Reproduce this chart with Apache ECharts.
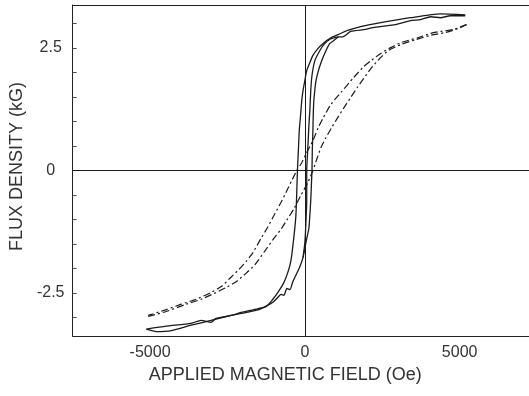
<!DOCTYPE html>
<html>
<head>
<meta charset="utf-8">
<script src="https://cdn.jsdelivr.net/npm/echarts@6/dist/echarts.min.js"></script>
<style>
  html, body { margin: 0; padding: 0; background: #fff; }
  #main { width: 529px; height: 396px; }
</style>
</head>
<body>
<div id="main"></div>
<script>
// field H (Oe) and flux density B (kG)
// solid loop: upper (descending) branch
const solidDown = [
  [5180, 3.18], [4380, 3.20], [3410, 3.12], [2450, 3.02], [1800, 2.94], [1380, 2.86],
  [1090, 2.78], [840, 2.71], [580, 2.59], [420, 2.49], [260, 2.35], [160, 2.20],
  [60, 2.04], [0, 1.84], [-60, 1.63], [-100, 1.43], [-140, 1.12], [-180, 0.82],
  [-210, 0.41], [-240, 0], [-260, -0.41], [-290, -0.92], [-350, -1.33], [-450, -1.84],
  [-550, -2.08], [-680, -2.29], [-870, -2.49], [-1060, -2.65], [-1260, -2.78],
  [-1640, -2.84], [-2060, -2.90], [-2380, -2.96], [-3030, -3.06], [-3670, -3.16],
  [-4310, -3.27], [-4800, -3.29], [-5120, -3.24]
];
// solid loop: lower (ascending) branch
const solidUp = [
  [-5120, -3.24], [-4480, -3.18], [-3670, -3.12], [-3350, -3.06], [-3030, -3.10],
  [-2870, -3.02], [-2060, -2.92], [-1480, -2.84], [-1220, -2.76], [-1030, -2.69],
  [-870, -2.59], [-770, -2.53], [-680, -2.55], [-580, -2.41], [-480, -2.43],
  [-390, -2.27], [-290, -2.14], [-160, -1.96], [-60, -1.78], [0, -1.59], [60, -1.39],
  [130, -1.18], [160, -0.92], [190, -0.61], [210, -0.31], [230, 0], [240, 0.41],
  [260, 0.82], [270, 1.12], [290, 1.43], [320, 1.63], [350, 1.80], [420, 2.00],
  [520, 2.20], [640, 2.39], [800, 2.59], [930, 2.65], [1090, 2.73], [1220, 2.73],
  [1480, 2.84], [1960, 2.88], [2190, 2.92], [2450, 2.94], [2930, 2.98], [3410, 3.06],
  [3740, 3.08], [4060, 3.14], [4380, 3.12], [4700, 3.16], [5180, 3.16]
];
// second trace of the ascending branch near the origin
const solidUp2 = [
  [-60, -1.78], [0, -1.47], [30, -1.12], [60, -0.61], [60, 0], [100, 0.51],
  [130, 0.92], [160, 1.22], [190, 1.63], [230, 1.94], [320, 2.24], [450, 2.41],
  [610, 2.57], [840, 2.69], [1090, 2.73]
];
// dash-dot loop: upper (descending) branch
const dashDown = [
  [5220, 2.98], [4800, 2.88], [4380, 2.84], [4060, 2.80], [3640, 2.71], [3090, 2.61],
  [2770, 2.51], [2450, 2.39], [2130, 2.24], [1900, 2.12], [1580, 1.90], [1160, 1.59],
  [840, 1.35], [580, 1.06], [420, 0.86], [260, 0.61], [60, 0.37], [-100, 0.16],
  [-260, 0], [-420, -0.20], [-580, -0.41], [-770, -0.65], [-1000, -0.92],
  [-1220, -1.18], [-1420, -1.39], [-1670, -1.67], [-1900, -1.86], [-2160, -2.04],
  [-2420, -2.20], [-2700, -2.37], [-3030, -2.49], [-3510, -2.63], [-3990, -2.73],
  [-4480, -2.84], [-5060, -2.96]
];
// dash-dot loop: lower (ascending) branch
const dashUp = [
  [-5060, -2.98], [-4480, -2.88], [-3830, -2.73], [-3350, -2.63], [-2930, -2.51],
  [-2540, -2.39], [-2220, -2.27], [-1900, -2.10], [-1610, -1.92], [-1320, -1.67],
  [-1030, -1.41], [-770, -1.20], [-550, -0.98], [-350, -0.78], [-130, -0.51],
  [100, -0.24], [260, 0], [390, 0.24], [520, 0.47], [680, 0.67], [870, 0.88],
  [1060, 1.08], [1290, 1.31], [1480, 1.49], [1710, 1.71], [1900, 1.88], [2130, 2.08],
  [2450, 2.31], [2700, 2.45], [3090, 2.57], [3570, 2.67], [4060, 2.76], [4540, 2.82],
  [4960, 2.90], [5220, 2.98]
];
const xLabels = [-5000, 0, 5000];
const yLabels = [-2.5, 0, 2.5];
const yTicks = [-3, -2.5, -2, -1.5, -1, -0.5, 0, 0.5, 1, 1.5, 2, 2.5, 3];

const chart = echarts.init(document.getElementById('main'));
const font = 'Liberation Sans, Arial, sans-serif';
const ink = '#1a1a1a';
const frame = { color: '#222', width: 1 };

const solid = (data) => ({
  type: 'line', data: data, showSymbol: false, smooth: 0.2,
  lineStyle: { color: ink, width: 1.3 }, silent: true
});
const dashed = (data) => ({
  type: 'line', data: data, showSymbol: false, smooth: 0.2,
  lineStyle: { color: ink, width: 1.2, type: [7, 3, 2, 3] }, silent: true
});

const option = {
  animation: false,
  backgroundColor: '#fff',
  // plot is cut off on the right in the original, so no right frame
  grid: { left: 71, right: 0, top: 5, bottom: 60 },
  xAxis: [{
    type: 'value', min: -7500, max: 7240,
    splitLine: { show: false },
    axisLine: { show: true, onZero: false, lineStyle: frame },
    axisTick: { show: false },
    axisLabel: {
      customValues: xLabels, margin: 9,
      fontFamily: font, fontSize: 16, color: '#333',
      formatter: (v) => String(v)
    },
    name: 'APPLIED MAGNETIC FIELD (Oe)',
    nameLocation: 'middle', nameGap: 21,
    nameTextStyle: { fontFamily: font, fontSize: 18, color: '#333', padding: [0, 31, 0, 0] }
  }, {
    // top frame line
    type: 'value', position: 'top', min: -7500, max: 7240,
    splitLine: { show: false },
    axisLine: { show: true, onZero: false, lineStyle: frame },
    axisTick: { show: false },
    axisLabel: { show: false }
  }],
  yAxis: {
    type: 'value', min: -3.38, max: 3.38,
    splitLine: { show: false },
    axisLine: { show: true, onZero: false, lineStyle: frame },
    axisTick: {
      customValues: yTicks, inside: true, length: 4,
      lineStyle: { color: '#555' }
    },
    axisLabel: {
      customValues: yLabels, align: 'center', margin: 22,
      fontFamily: font, fontSize: 16, color: '#333',
      formatter: (v) => String(v)
    },
    name: 'FLUX DENSITY (kG)',
    nameLocation: 'middle', nameGap: 36,
    nameTextStyle: { fontFamily: font, fontSize: 18, color: '#333', padding: [0, 0, 0, 8] }
  },
  series: [
    Object.assign(solid(solidDown), {
      markLine: {
        silent: true, symbol: 'none', label: { show: false },
        lineStyle: { color: ink, width: 1, type: 'solid' },
        data: [{ xAxis: 0 }, { yAxis: 0 }]
      }
    }),
    solid(solidUp),
    solid(solidUp2),
    dashed(dashDown),
    dashed(dashUp)
  ]
};
chart.setOption(option);
</script>
</body>
</html>
